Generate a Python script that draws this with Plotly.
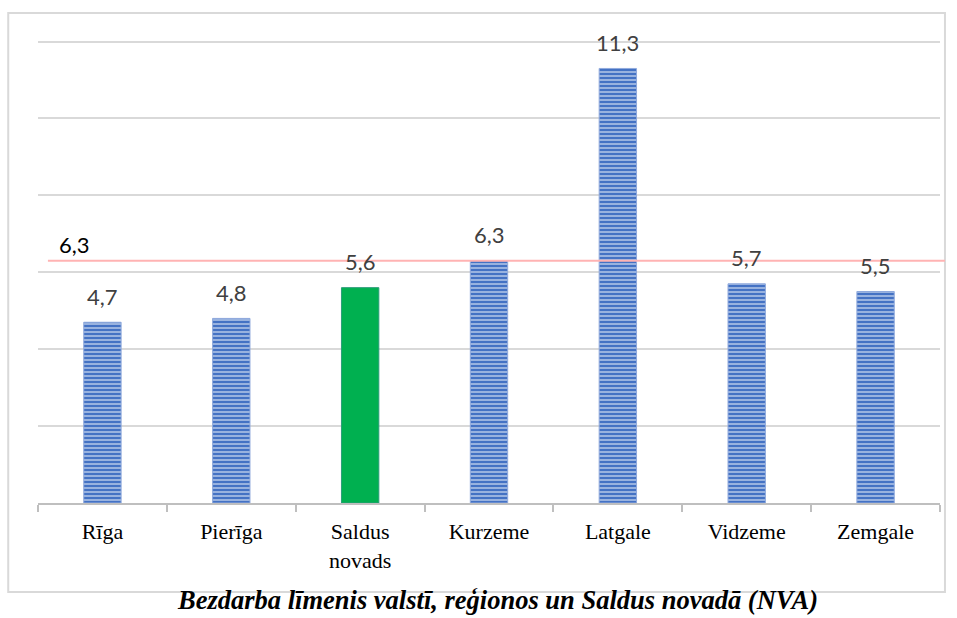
import plotly.graph_objects as go

# Data
regions = ["Rīga", "Pierīga", "Saldus<br>novads", "Kurzeme", "Latgale", "Vidzeme", "Zemgale"]
rates = [4.7, 4.8, 5.6, 6.3, 11.3, 5.7, 5.5]
rate_labels = ["4,7", "4,8", "5,6", "6,3", "11,3", "5,7", "5,5"]
country_rate = 6.3
country_label = "6,3"
highlight = "Saldus<br>novads"
title_text = "Bezdarba līmenis valstī, reģionos un Saldus novadā (NVA)"

blue = "#4472c4"
green = "#00b050"

fig = go.Figure()

shapes_pat = ["" if r == highlight else "-" for r in regions]

fig.add_trace(go.Bar(
    x=regions, y=rates, width=0.29,
    marker=dict(
        color=[(green if r == highlight else blue) for r in regions],
        line=dict(color=[("#2a9d78" if r == highlight else "#8fa9dc") for r in regions], width=1),
        pattern=dict(shape=shapes_pat, fgcolor="#c3d4f3", size=4, solidity=0.45, fillmode="overlay"),
    ),
    showlegend=False,
    hoverinfo="skip",
))

label_font = dict(family="Lato, Carlito, sans-serif", size=22, color="#404040")
annotations = []
for r, v, t in zip(regions, rates, rate_labels):
    annotations.append(dict(x=r, y=v, text=t, showarrow=False, yshift=26, font=label_font))

# country average line label
annotations.append(dict(xref="paper", x=0.021, xanchor="left", y=country_rate, text=country_label,
                        showarrow=False, yshift=16,
                        font=dict(family="Lato, Carlito, sans-serif", size=22, color="#000000")))

# caption
annotations.append(dict(xref="paper", yref="paper", x=0.509, y=-0.205, text="<b><i>" + title_text + "</i></b>",
                        showarrow=False, yanchor="middle",
                        font=dict(family="Liberation Serif, Times New Roman, serif", size=26.5, color="#000000")))

shapes = [
    # outer border
    dict(type="rect", xref="paper", yref="paper", x0=-0.033, x1=1.0055, y0=-0.188, y1=1.036,
         line=dict(color="#d9d9d9", width=2), layer="below"),
    # country average line
    dict(type="line", xref="paper", yref="y", x0=0.011, x1=1.0055, y0=country_rate, y1=country_rate,
         line=dict(color="#ffb3b3", width=2)),
]

fig.update_layout(
    width=957, height=618,
    margin=dict(l=38, r=17, t=30, b=115),
    paper_bgcolor="white", plot_bgcolor="white",
    annotations=annotations,
    shapes=shapes,
    xaxis=dict(
        type="category", showline=True, linecolor="#bfbfbf", linewidth=2,
        ticks="outside", tickson="boundaries", ticklen=7, tickcolor="#bfbfbf", tickwidth=2,
        ticklabelstandoff=8,
        tickfont=dict(family="Liberation Serif, Times New Roman, serif", size=22, color="#000000"),
        showgrid=False,
    ),
    yaxis=dict(
        range=[0, 12.3], dtick=2, showticklabels=False, showgrid=True,
        gridcolor="#d9d9d9", gridwidth=1.5, zeroline=False, showline=False,
    ),
)

fig.write_html("out.html", config={"displayModeBar": False},
               post_script="document.body.style.margin='0';")
